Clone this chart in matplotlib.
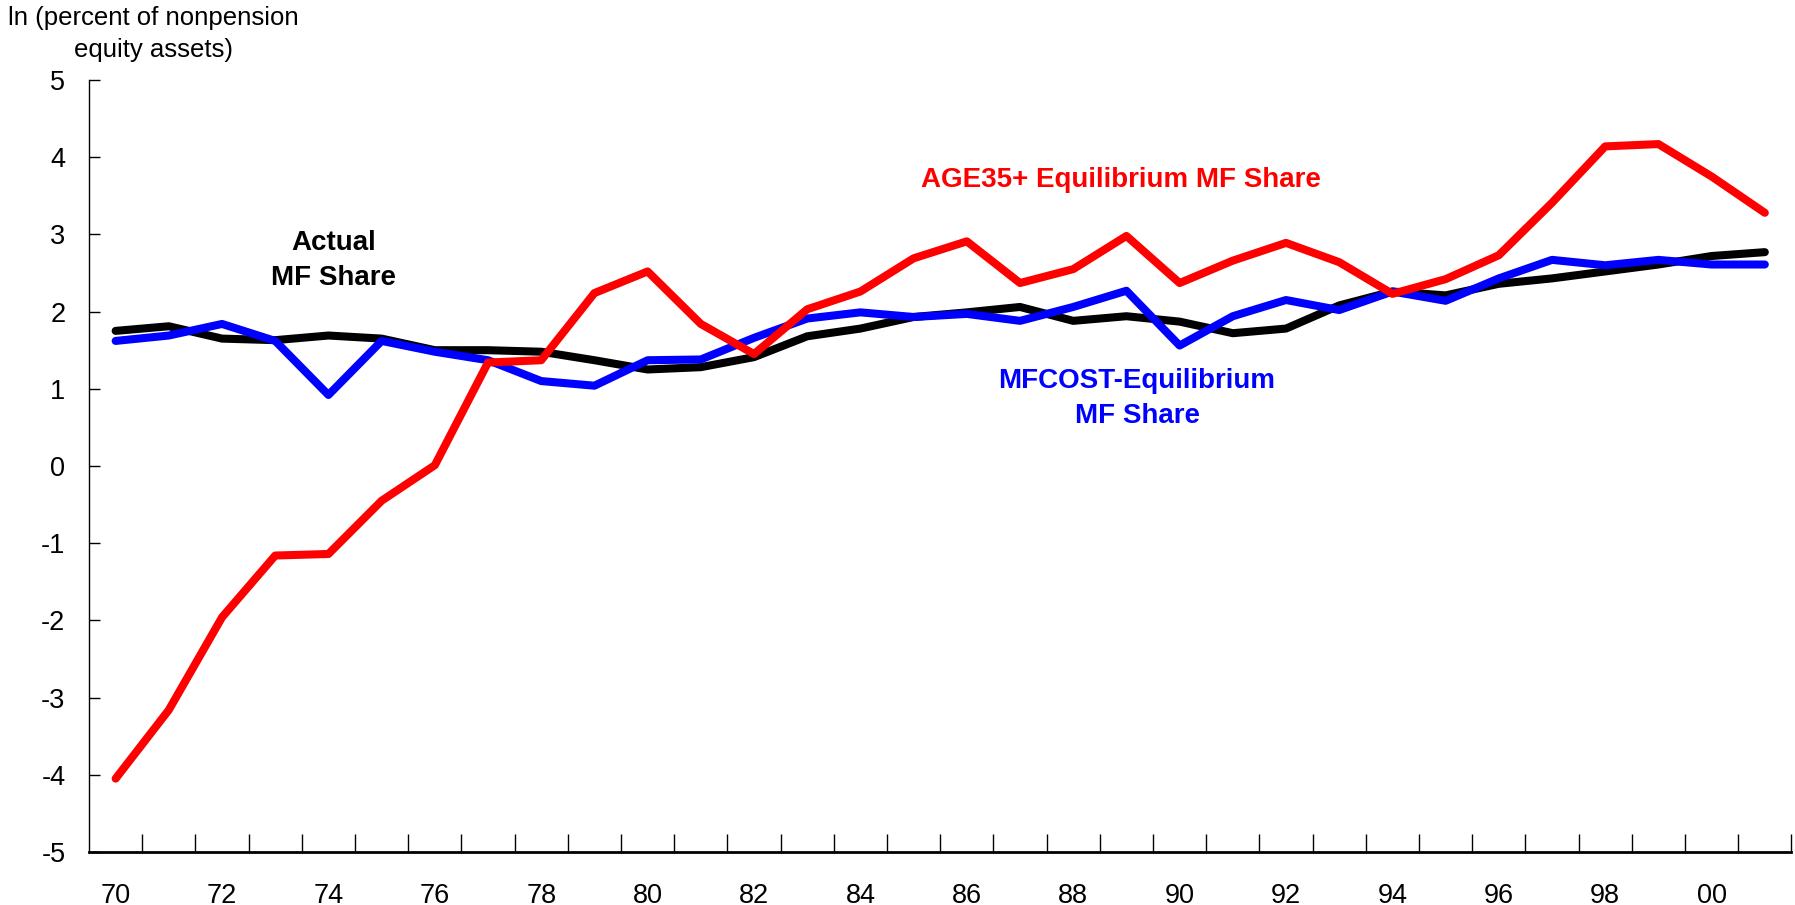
import matplotlib
matplotlib.use("Agg")
import matplotlib.pyplot as plt

plt.rcParams["font.family"] = ["Liberation Sans", "DejaVu Sans"]

# ----------------------------
# Data
# ----------------------------
years = list(range(1970, 2002))
tick_labels = ["70", "72", "74", "76", "78", "80", "82", "84",
               "86", "88", "90", "92", "94", "96", "98", "00"]

actual = [1.75, 1.81, 1.65, 1.63, 1.69, 1.65, 1.50, 1.50, 1.48, 1.37,
          1.25, 1.28, 1.41, 1.68, 1.78, 1.93, 1.99, 2.06, 1.88, 1.94,
          1.87, 1.72, 1.78, 2.08, 2.26, 2.21, 2.36, 2.43, 2.52, 2.61,
          2.72, 2.77]

mfcost = [1.62, 1.69, 1.84, 1.62, 0.92, 1.62, 1.48, 1.37, 1.10, 1.04,
          1.37, 1.38, 1.66, 1.91, 1.99, 1.93, 1.97, 1.88, 2.06, 2.27,
          1.56, 1.94, 2.15, 2.02, 2.26, 2.14, 2.43, 2.67, 2.60, 2.67,
          2.61, 2.61]

age35 = [-4.05, -3.16, -1.96, -1.16, -1.14, -0.45, 0.01, 1.34, 1.37, 2.24,
         2.52, 1.84, 1.45, 2.03, 2.26, 2.69, 2.91, 2.37, 2.55, 2.98,
         2.37, 2.66, 2.89, 2.64, 2.23, 2.42, 2.73, 3.41, 4.14, 4.17,
         3.75, 3.28]

# ----------------------------
# Plot
# ----------------------------
fig = plt.figure(figsize=(17.95, 9.05), dpi=100)
ax = fig.add_axes([0.0496, 0.0586, 0.9484, 0.853])

style = dict(lw=5.8, solid_capstyle="round", solid_joinstyle="round")
ax.plot(years, actual, color="black", **style)
ax.plot(years, mfcost, color="#0000ff", **style)
ax.plot(years, age35, color="#ff0000", **style)

# Labels on the lines
ax.text(1974.1, 2.66, "Actual\nMF Share", ha="center", va="center",
        fontsize=20, fontweight="bold", color="black", linespacing=1.45)
ax.text(1988.9, 3.71, "AGE35+ Equilibrium MF Share", ha="center", va="center",
        fontsize=20, fontweight="bold", color="#ff0000")
ax.text(1989.2, 0.875, "MFCOST-Equilibrium\nMF Share", ha="center", va="center",
        fontsize=20, fontweight="bold", color="#0000ff", linespacing=1.45)

# Axes
ax.set_xlim(1969.5, 2001.5)
ax.set_ylim(-5, 5)
ax.set_yticks(range(-5, 6))
ax.set_yticklabels([str(v) for v in range(-5, 6)], fontsize=19.5)
ax.set_xticks(years[::2])
ax.set_xticklabels(tick_labels, fontsize=19.5)
ax.set_xticks([y + 0.5 for y in years], minor=True)
ax.tick_params(axis="x", which="major", length=0, pad=22)
ax.tick_params(axis="x", which="minor", direction="in", length=13, width=1)
ax.tick_params(axis="y", direction="in", length=8, width=1, pad=17)

ax.spines["top"].set_visible(False)
ax.spines["right"].set_visible(False)
ax.spines["left"].set_linewidth(1)
ax.spines["bottom"].set_linewidth(2)

fig.text(0.0853, 0.993, "ln (percent of nonpension\nequity assets)", ha="center",
         va="top", fontsize=18.5, linespacing=1.4)

fig.savefig("out.png", dpi=100)
